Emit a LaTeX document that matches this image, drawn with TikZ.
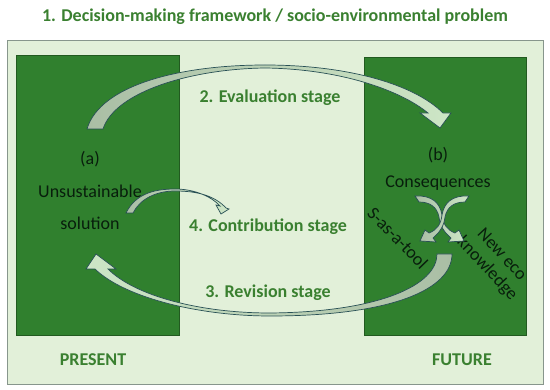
\documentclass[tikz,border=0pt]{standalone}
\usepackage{fontspec}
\setmainfont{Carlito}
\definecolor{bglight}{RGB}{226,240,217}
\definecolor{bordergray}{RGB}{135,150,140}
\definecolor{boxgreen}{RGB}{48,128,46}
\definecolor{txtgreen}{RGB}{58,128,48}
\definecolor{darktxt}{RGB}{8,30,12}
\definecolor{arrowline}{RGB}{40,80,85}
\definecolor{arrowA}{RGB}{170,190,165}
\definecolor{arrowB}{RGB}{205,230,198}
\begin{document}
\begin{tikzpicture}[x=1pt,y=-1pt,
  stagetxt/.style={font=\bfseries\fontsize{18}{21}\selectfont, text=txtgreen, inner sep=0pt},
  boxtxt/.style={font=\fontsize{18}{21}\selectfont, text=darktxt, inner sep=0pt},
  panel/.style={fill=boxgreen, draw=boxgreen!70!black, line width=0.6pt, anchor=north west, inner sep=0pt},
  arrowshape/.style={draw=arrowline, line width=0.7pt, left color=arrowA, right color=arrowB},
]
\useasboundingbox (0,0) rectangle (550,390);
\fill[white] (0,0) rectangle (550,390);
\node[draw=bordergray, fill=bglight, line width=1pt, minimum width=536pt, minimum height=344pt, anchor=north west, inner sep=0pt] (frame) at (7,40) {};
\node[panel, minimum width=163pt, minimum height=280pt] (present) at (16,55) {};
\node[panel, minimum width=162pt, minimum height=278pt] (future) at (364,57) {};

% texts
\node[stagetxt] (title) at (275,17) {1. Decision-making framework / socio-environmental problem};
\node[stagetxt] (eval) at (270,98) {2. Evaluation stage};
\node[stagetxt] (contrib) at (268,227) {4. Contribution stage};
\node[stagetxt] (revision) at (268,293) {3. Revision stage};
\node[stagetxt] (presentlbl) at (93,360) {PRESENT};
\node[stagetxt] (futurelbl) at (462,360) {FUTURE};
\node[boxtxt] (a) at (90,159) {(a)};
\node[boxtxt] (unsus) at (90,191) {Unsustainable};
\node[boxtxt] (sol) at (90,223) {solution};
\node[boxtxt] (b) at (438,155) {(b)};
\node[boxtxt] (cons) at (438,183) {Consequences};
\node[boxtxt, rotate=-46] (tool) at (398,238) {S-as-a-tool};
\node[boxtxt, rotate=-47, align=center, font=\fontsize{18}{20}\selectfont] (neweco) at (494,262) {New eco\\knowledge};

% 2. evaluation arrow
\path[arrowshape] (87,129) .. controls (100,85) and (180,65) .. (265,65)
  .. controls (350,65) and (415,85) .. (443,113) -- (451,113) -- (440,128) -- (420,113) -- (428,113)
  .. controls (400,90) and (340,69) .. (265,68)
  .. controls (190,69) and (115,92) .. (103,129) -- cycle;

% 3. revision arrow
\path[arrowshape, left color=arrowB, right color=arrowA] (452,254)
  .. controls (452,290) and (390,316) .. (270,316)
  .. controls (200,316) and (125,298) .. (95,269) -- (86,269) -- (96,254) -- (116,269) -- (108,269)
  .. controls (135,296) and (200,313) .. (270,313)
  .. controls (380,312) and (437,285) .. (437,254) -- cycle;

% 4. contribution arrow
\path[arrowshape] (126,213) .. controls (135,195) and (152,189) .. (175,189)
  .. controls (195,189) and (212,197) .. (220,206) -- (216,205) -- (221,214) -- (229,209) -- (226,208)
  .. controls (215,196) and (198,191) .. (175,191)
  .. controls (156,191) and (140,199) .. (133,213) -- cycle;

% cross arrows
\path[arrowshape] (415,196) .. controls (432,195) and (440,203) .. (442,215)
  .. controls (443,224) and (447,230) .. (455,233) -- (459,230) -- (464,241) -- (448,242) -- (451,238)
  .. controls (444,232) and (440,226) .. (439,217)
  .. controls (437,207) and (430,202) .. (419,202) -- cycle;
\path[arrowshape] (469,196) .. controls (452,195) and (444,203) .. (442,215)
  .. controls (441,224) and (437,230) .. (429,233) -- (425,230) -- (420,241) -- (436,242) -- (433,238)
  .. controls (440,232) and (444,226) .. (445,217)
  .. controls (447,207) and (454,202) .. (465,202) -- cycle;
\end{tikzpicture}
\end{document}
